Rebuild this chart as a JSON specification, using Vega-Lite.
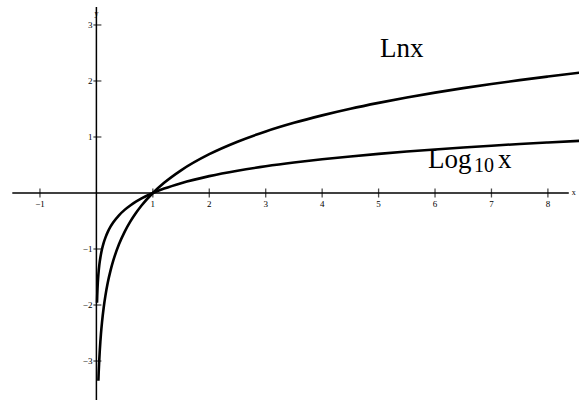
{
  "$schema": "https://vega.github.io/schema/vega-lite/v6.json",
  "width": 579,
  "height": 400,
  "autosize": "none",
  "padding": 0,
  "background": "white",
  "config": {"view": {"stroke": null}, "text": {"font": "Liberation Serif", "color": "black"}},
  "datasets": {
    "axes": [
      {"x": -1.49, "x2": 8.37, "y": 0, "y2": 0},
      {"x": 0, "x2": 0, "y": 3.32, "y2": -3.7}
    ],
    "xticks": [
      {"v": -1, "label": "−1"}, {"v": 1, "label": "1"}, {"v": 2, "label": "2"},
      {"v": 3, "label": "3"}, {"v": 4, "label": "4"}, {"v": 5, "label": "5"},
      {"v": 6, "label": "6"}, {"v": 7, "label": "7"}, {"v": 8, "label": "8"}
    ],
    "yticks": [
      {"v": 3, "label": "3"}, {"v": 2, "label": "2"}, {"v": 1, "label": "1"},
      {"v": -1, "label": "−1"}, {"v": -2, "label": "−2"}, {"v": -3, "label": "−3"}
    ],
    "axisNames": [
      {"x": 8.46, "y": 0, "label": "x"},
      {"x": 0, "y": 3.2, "label": "y"}
    ],
    "curves": [
      {"fn": "ln", "x": 0.035, "y": -3.352}, {"fn": "ln", "x": 0.04, "y": -3.219},
      {"fn": "ln", "x": 0.045, "y": -3.101}, {"fn": "ln", "x": 0.05, "y": -2.996},
      {"fn": "ln", "x": 0.06, "y": -2.813}, {"fn": "ln", "x": 0.07, "y": -2.659},
      {"fn": "ln", "x": 0.08, "y": -2.526}, {"fn": "ln", "x": 0.1, "y": -2.303},
      {"fn": "ln", "x": 0.13, "y": -2.04}, {"fn": "ln", "x": 0.16, "y": -1.833},
      {"fn": "ln", "x": 0.2, "y": -1.609}, {"fn": "ln", "x": 0.25, "y": -1.386},
      {"fn": "ln", "x": 0.3, "y": -1.204}, {"fn": "ln", "x": 0.4, "y": -0.916},
      {"fn": "ln", "x": 0.5, "y": -0.693}, {"fn": "ln", "x": 0.6, "y": -0.511},
      {"fn": "ln", "x": 0.7, "y": -0.357}, {"fn": "ln", "x": 0.8, "y": -0.223},
      {"fn": "ln", "x": 1, "y": 0}, {"fn": "ln", "x": 1.2, "y": 0.182},
      {"fn": "ln", "x": 1.5, "y": 0.405}, {"fn": "ln", "x": 2, "y": 0.693},
      {"fn": "ln", "x": 2.5, "y": 0.916}, {"fn": "ln", "x": 3, "y": 1.099},
      {"fn": "ln", "x": 3.5, "y": 1.253}, {"fn": "ln", "x": 4, "y": 1.386},
      {"fn": "ln", "x": 4.5, "y": 1.504}, {"fn": "ln", "x": 5, "y": 1.609},
      {"fn": "ln", "x": 5.5, "y": 1.705}, {"fn": "ln", "x": 6, "y": 1.792},
      {"fn": "ln", "x": 6.5, "y": 1.872}, {"fn": "ln", "x": 7, "y": 1.946},
      {"fn": "ln", "x": 7.5, "y": 2.015}, {"fn": "ln", "x": 8, "y": 2.079},
      {"fn": "ln", "x": 8.6, "y": 2.152},
      {"fn": "log10", "x": 0.011, "y": -1.959}, {"fn": "log10", "x": 0.012, "y": -1.921},
      {"fn": "log10", "x": 0.015, "y": -1.824}, {"fn": "log10", "x": 0.02, "y": -1.699},
      {"fn": "log10", "x": 0.025, "y": -1.602}, {"fn": "log10", "x": 0.03, "y": -1.523},
      {"fn": "log10", "x": 0.04, "y": -1.398}, {"fn": "log10", "x": 0.05, "y": -1.301},
      {"fn": "log10", "x": 0.06, "y": -1.222}, {"fn": "log10", "x": 0.07, "y": -1.155},
      {"fn": "log10", "x": 0.08, "y": -1.097}, {"fn": "log10", "x": 0.1, "y": -1},
      {"fn": "log10", "x": 0.13, "y": -0.886}, {"fn": "log10", "x": 0.16, "y": -0.796},
      {"fn": "log10", "x": 0.2, "y": -0.699}, {"fn": "log10", "x": 0.25, "y": -0.602},
      {"fn": "log10", "x": 0.3, "y": -0.523}, {"fn": "log10", "x": 0.4, "y": -0.398},
      {"fn": "log10", "x": 0.5, "y": -0.301}, {"fn": "log10", "x": 0.6, "y": -0.222},
      {"fn": "log10", "x": 0.7, "y": -0.155}, {"fn": "log10", "x": 0.8, "y": -0.097},
      {"fn": "log10", "x": 1, "y": 0}, {"fn": "log10", "x": 1.2, "y": 0.079},
      {"fn": "log10", "x": 1.5, "y": 0.176}, {"fn": "log10", "x": 2, "y": 0.301},
      {"fn": "log10", "x": 2.5, "y": 0.398}, {"fn": "log10", "x": 3, "y": 0.477},
      {"fn": "log10", "x": 3.5, "y": 0.544}, {"fn": "log10", "x": 4, "y": 0.602},
      {"fn": "log10", "x": 4.5, "y": 0.653}, {"fn": "log10", "x": 5, "y": 0.699},
      {"fn": "log10", "x": 5.5, "y": 0.74}, {"fn": "log10", "x": 6, "y": 0.778},
      {"fn": "log10", "x": 6.5, "y": 0.813}, {"fn": "log10", "x": 7, "y": 0.845},
      {"fn": "log10", "x": 7.5, "y": 0.875}, {"fn": "log10", "x": 8, "y": 0.903},
      {"fn": "log10", "x": 8.6, "y": 0.934}
    ],
    "bigLabels": [
      {"x": 5.025, "y": 2.43, "label": "Lnx", "size": 27},
      {"x": 5.875, "y": 0.446, "label": "Log", "size": 27},
      {"x": 6.69, "y": 0.375, "label": "10", "size": 20},
      {"x": 7.115, "y": 0.446, "label": "x", "size": 27}
    ]
  },
  "layer": [
    {
      "data": {"name": "axes"},
      "mark": {"type": "rule", "color": "black", "strokeWidth": 1.5},
      "encoding": {
        "x": {"field": "x", "type": "quantitative", "axis": null, "scale": {"domain": [-1.708, 8.551], "nice": false, "zero": false}},
        "x2": {"field": "x2"},
        "y": {"field": "y", "type": "quantitative", "axis": null, "scale": {"domain": [-3.696, 3.446], "nice": false, "zero": false}},
        "y2": {"field": "y2"}
      }
    },
    {
      "data": {"name": "xticks"},
      "mark": {"type": "tick", "orient": "vertical", "color": "black", "size": 9, "thickness": 1.3},
      "encoding": {
        "x": {"field": "v", "type": "quantitative"},
        "y": {"datum": 0, "type": "quantitative"}
      }
    },
    {
      "data": {"name": "xticks"},
      "mark": {"type": "text", "fontSize": 9, "baseline": "middle", "align": "center", "dy": 11},
      "encoding": {
        "x": {"field": "v", "type": "quantitative"},
        "y": {"datum": 0, "type": "quantitative"},
        "text": {"field": "label"}
      }
    },
    {
      "data": {"name": "yticks"},
      "mark": {"type": "tick", "orient": "horizontal", "color": "black", "size": 8, "thickness": 1.3, "xOffset": 1},
      "encoding": {
        "x": {"datum": 0, "type": "quantitative"},
        "y": {"field": "v", "type": "quantitative"}
      }
    },
    {
      "data": {"name": "yticks"},
      "mark": {"type": "text", "fontSize": 9, "baseline": "middle", "align": "right", "dx": -4},
      "encoding": {
        "x": {"datum": 0, "type": "quantitative"},
        "y": {"field": "v", "type": "quantitative"},
        "text": {"field": "label"}
      }
    },
    {
      "data": {"name": "axisNames"},
      "mark": {"type": "text", "fontSize": 8, "baseline": "middle", "align": "center"},
      "encoding": {
        "x": {"field": "x", "type": "quantitative"},
        "y": {"field": "y", "type": "quantitative"},
        "text": {"field": "label"}
      }
    },
    {
      "data": {"name": "curves"},
      "mark": {"type": "line", "color": "black", "strokeWidth": 2.6, "interpolate": "monotone"},
      "encoding": {
        "x": {"field": "x", "type": "quantitative"},
        "y": {"field": "y", "type": "quantitative"},
        "detail": {"field": "fn"}
      }
    },
    {
      "data": {"name": "bigLabels"},
      "mark": {"type": "text", "align": "left", "baseline": "alphabetic"},
      "encoding": {
        "x": {"field": "x", "type": "quantitative"},
        "y": {"field": "y", "type": "quantitative"},
        "text": {"field": "label"},
        "size": {"field": "size", "type": "quantitative", "scale": null, "legend": null}
      }
    }
  ]
}
